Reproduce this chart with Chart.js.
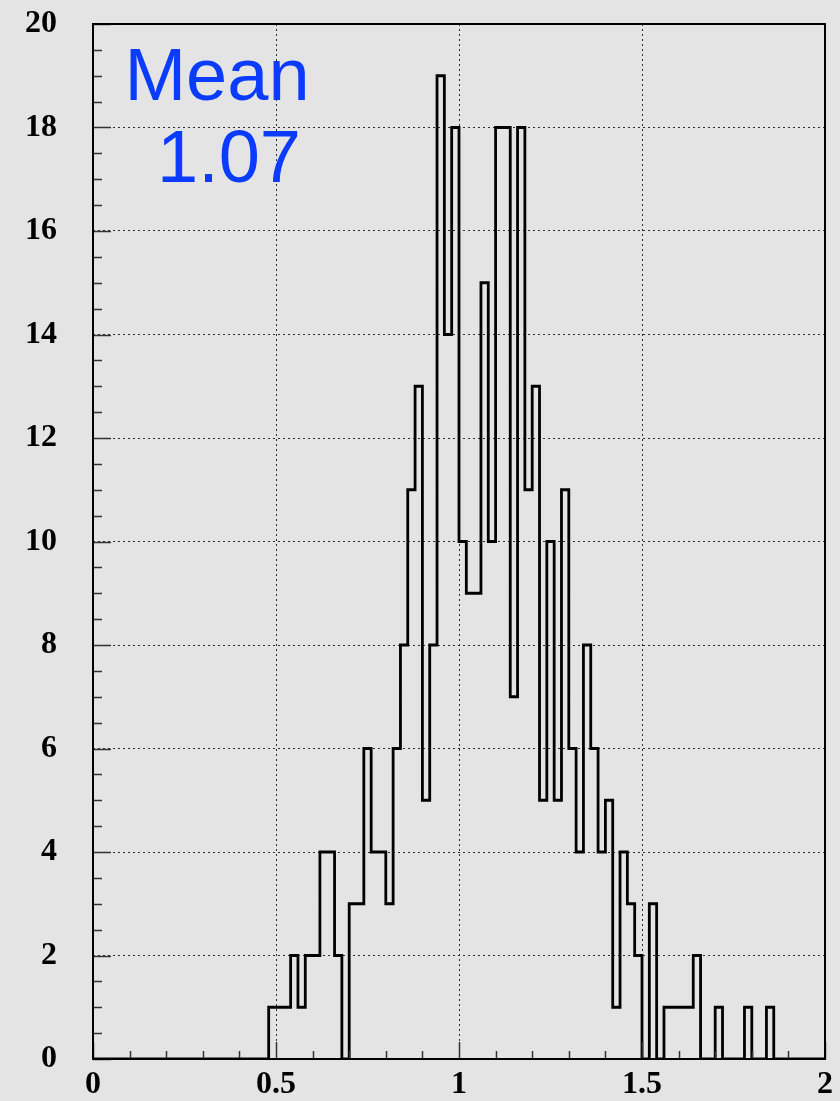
<!DOCTYPE html>
<html>
<head>
<meta charset="utf-8">
<script src="https://cdn.jsdelivr.net/npm/chart.js@4/dist/chart.umd.min.js"></script>
<style>
  html, body { margin: 0; padding: 0; background: #e4e4e4; }
  #wrap { width: 840px; height: 1101px; }
  canvas { display: block; background: #e4e4e4; }
</style>
</head>
<body>
<div id="wrap"><canvas id="canvas" width="840" height="1101"></canvas></div>
<script>
// histogram: 100 bins of 0.02 from 0 to 2
let binStart = 0;
let binWidth = 0.02;
let counts = [
    0, 0, 0, 0, 0, 0, 0, 0, 0, 0,
    0, 0, 0, 0, 0, 0, 0, 0, 0, 0,
    0, 0, 0, 0, 1, 1, 1, 2, 1, 2,
    2, 4, 4, 2, 0, 3, 3, 6, 4, 4,
    3, 6, 8, 11, 13, 5, 8, 19, 14, 18,
    10, 9, 9, 15, 10, 18, 18, 7, 18, 11,
    13, 5, 10, 5, 11, 6, 4, 8, 6, 4,
    5, 1, 4, 3, 2, 0, 3, 0, 1, 1,
    1, 1, 2, 0, 0, 1, 0, 0, 0, 1,
    0, 0, 1, 0, 0, 0, 0, 0, 0, 0
];
let xTicks = [0, 0.5, 1, 1.5, 2];
let yTicks = [0, 2, 4, 6, 8, 10, 12, 14, 16, 18, 20];
let meanLabel = ["Mean", "1.07"];

// one point per lower bin edge, plus the upper edge of the last bin
let points = counts.map((c, i) => ({ x: binStart + i * binWidth, y: c }));
points.push({ x: binStart + counts.length * binWidth, y: counts[counts.length - 1] });

let tickFont = { family: "'Liberation Serif', 'Times New Roman', serif", size: 32, weight: "bold" };

// frame, inward ticks and the mean box
let framePlugin = {
    id: "frame",
    afterDraw(chart) {
        let ctx = chart.ctx;
        let a = chart.chartArea;
        let xs = chart.scales.x, ys = chart.scales.y;
        ctx.save();
        ctx.strokeStyle = "#333";
        ctx.lineWidth = 1.5;
        ctx.beginPath();
        for (let i = 0; i <= 20; i++) {
            let px = Math.round(xs.getPixelForValue(i * 0.1)) + 0.5;
            let len = (i % 5 === 0) ? 17 : 8;
            ctx.moveTo(px, a.bottom);
            ctx.lineTo(px, a.bottom - len);
        }
        for (let i = 0; i <= 40; i++) {
            let py = Math.round(ys.getPixelForValue(i * 0.5)) + 0.5;
            let len = (i % 4 === 0) ? 18 : 9;
            ctx.moveTo(a.left, py);
            ctx.lineTo(a.left + len, py);
        }
        ctx.stroke();
        ctx.strokeStyle = "#000";
        ctx.lineWidth = 2;
        ctx.strokeRect(a.left, a.top, a.right - a.left, a.bottom - a.top);

        ctx.fillStyle = "#0b3cfd";
        ctx.font = "74px 'Liberation Sans', Arial, sans-serif";
        ctx.textAlign = "center";
        ctx.textBaseline = "alphabetic";
        ctx.fillText(meanLabel[0], 217, 100);
        ctx.fillText(meanLabel[1], 229, 182);
        ctx.restore();
    }
};

let chart = new Chart(document.getElementById("canvas"), {
    type: "line",
    data: {
        datasets: [{
            data: points,
            stepped: "before",
            borderColor: "#000",
            borderWidth: 2.8,
            pointRadius: 0,
            fill: false,
            tension: 0
        }]
    },
    options: {
        responsive: false,
        devicePixelRatio: 1,
        animation: false,
        layout: { padding: { top: 24, right: 15, left: 0, bottom: 0 } },
        plugins: { legend: { display: false }, tooltip: { enabled: false } },
        scales: {
            x: {
                type: "linear",
                min: 0,
                max: 2,
                afterFit: (s) => { s.height = 42; s.paddingLeft = 0; s.paddingRight = 0; },
                afterBuildTicks: (s) => { s.ticks = xTicks.map(v => ({ value: v })); },
                grid: { color: "#2e2e2e", lineWidth: 1, drawTicks: false },
                border: { display: false, dash: [2, 3] },
                ticks: {
                    font: tickFont,
                    color: "#000",
                    padding: 7,
                    maxRotation: 0,
                    autoSkip: false,
                    callback: (v) => String(v)
                }
            },
            y: {
                type: "linear",
                min: 0,
                max: 20,
                afterFit: (s) => { s.width = 93; s.paddingTop = 0; s.paddingBottom = 0; },
                afterBuildTicks: (s) => { s.ticks = yTicks.map(v => ({ value: v })); },
                grid: { color: "#2e2e2e", lineWidth: 1, drawTicks: false },
                border: { display: false, dash: [2, 3] },
                ticks: {
                    font: tickFont,
                    color: "#000",
                    padding: 36,
                    autoSkip: false
                }
            }
        }
    },
    plugins: [framePlugin]
});
</script>
</body>
</html>
